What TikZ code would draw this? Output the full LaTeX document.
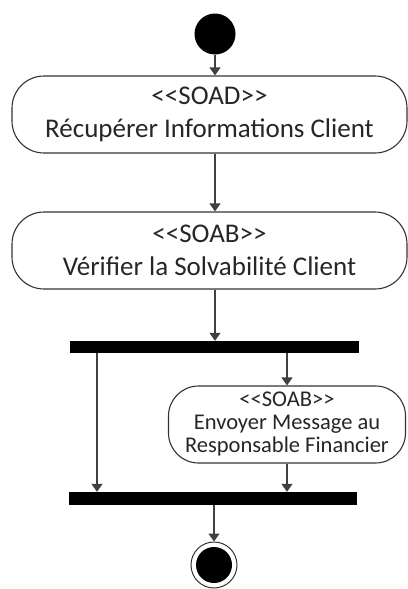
\documentclass[tikz,border=0pt]{standalone}
\usepackage{fontspec}
\setmainfont{Carlito}[Ligatures=TeXOff]
\usetikzlibrary{arrows.meta}
\begin{document}
\begin{tikzpicture}[x=1pt, y=-1pt,
      every node/.style={font=\fontsize{27}{33}\selectfont, align=center, text=black!85},
      action/.style={draw=black!80, line width=1.1pt, rounded corners=32pt, minimum width=395pt, minimum height=77pt, inner sep=1pt},
      barre/.style={fill=black, inner sep=0pt, minimum height=12pt},
      fleche/.style={draw=black!75, line width=1.1pt, -{Triangle[length=8pt, width=11pt]}}
    ]
    \useasboundingbox (0,0) rectangle (407,589);
    \node[circle, fill=black, minimum size=41pt, inner sep=0pt] (debut) at (215,34) {};
    \node[action] (recup)  at (209.5,114.5) {<<SOAD>>\\ Récupérer Informations Client};
    \node[action] (verif)  at (209.5,250.5) {<<SOAB>>\\ Vérifier la Solvabilité Client};
    \node[barre, minimum width=289pt] (fork) at (214.5,347) {};
    \node[action, minimum width=237pt, rounded corners=30pt, font=\fontsize{22.5}{23}\selectfont] (envoi) at (287,424.5)
      {<<SOAB>>\\ Envoyer Message au\\ Responsable Financier};
    \node[barre, minimum width=288pt, minimum height=13pt] (join) at (213,498.5) {};
    \node[circle, draw=black!80, line width=1pt, minimum size=46pt, inner sep=0pt] (fin) at (214,565) {};
    \node[circle, fill=black, minimum size=36pt, inner sep=0pt] (fin2) at (fin) {};
    \coordinate (gauche) at (97,353);

    \draw[fleche] (debut) -- (debut |- recup.north);
    \draw[fleche] (recup.south -| debut) -- (debut |- verif.north);
    \draw[fleche] (verif.south -| debut) -- (debut |- fork.north);
    \draw[fleche] (fork.south -| envoi) -- (envoi.north);
    \draw[fleche] (gauche) -- (gauche |- join.north);
    \draw[fleche] (envoi.south) -- (envoi |- join.north);
    \draw[fleche] (join.south -| fin) -- (fin.north);
  \end{tikzpicture}
\end{document}
